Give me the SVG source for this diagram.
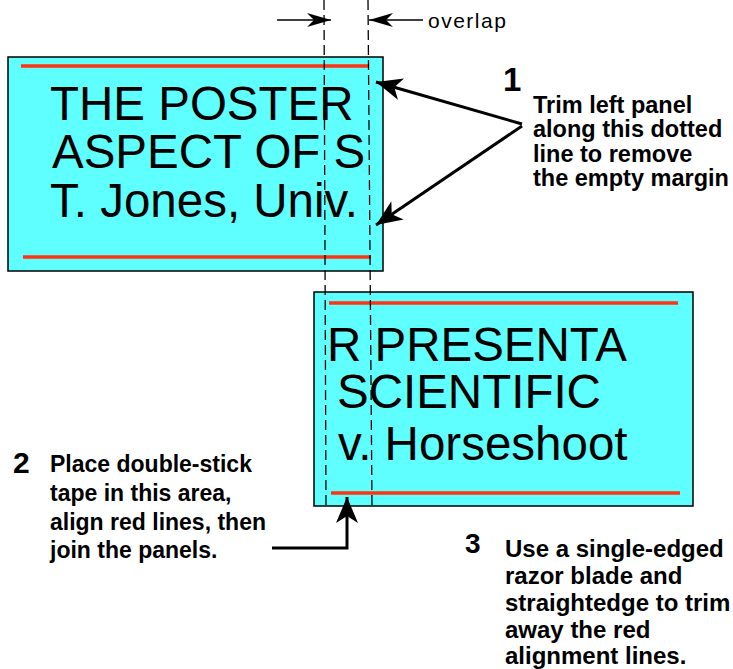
<svg xmlns="http://www.w3.org/2000/svg" width="733" height="669" viewBox="0 0 733 669">
  <style>
    .panel { fill: #5FFFFF; stroke: #000; stroke-width: 1.5; }
    .redline { stroke: #FF3311; stroke-width: 3.5; }
    .ptext { font-family: "Liberation Sans", Arial, sans-serif; font-size: 47.5px; fill: #000; }
    .cut { stroke: #000; stroke-width: 1.3; stroke-dasharray: 10 5; fill: none; }
    .step { font-family: "Liberation Sans", Arial, sans-serif; font-weight: bold; fill: #000; }
    .num { font-family: "Liberation Sans", Arial, sans-serif; font-weight: bold; fill: #000; }
    .thick { stroke: #000; stroke-width: 3; fill: none; }
    .thin { stroke: #000; stroke-width: 1.6; fill: none; }
  </style>
  <defs>
    <marker id="bigHead" markerUnits="userSpaceOnUse" markerWidth="30" markerHeight="26" viewBox="-28 -13 30 26" refX="0" refY="0" orient="auto">
      <path d="M0,0 L-26,-11 L-19,0 L-26,11 Z" fill="#000"/>
    </marker>
    <marker id="smallHead" markerUnits="userSpaceOnUse" markerWidth="28" markerHeight="18" viewBox="-26 -9 28 18" refX="0" refY="0" orient="auto">
      <path d="M0,0 L-24,-7 L-17,0 L-24,7 Z" fill="#000"/>
    </marker>
  </defs>

  <rect width="733" height="669" fill="#fff"/>

  <!-- left poster panel -->
  <g id="panel-left">
    <rect class="panel" x="8" y="57" width="375" height="214"/>
    <line class="redline" x1="21" y1="66" x2="369" y2="66"/>
    <line class="redline" x1="23" y1="257" x2="371" y2="257"/>
    <text class="ptext" x="50" y="120">THE POSTER</text>
    <text class="ptext" x="52" y="168">ASPECT OF S</text>
    <text class="ptext" x="50" y="217">T. Jones, Univ.</text>
  </g>

  <!-- right poster panel -->
  <g id="panel-right">
    <rect class="panel" x="314" y="292" width="379" height="214"/>
    <line class="redline" x1="329" y1="303" x2="678" y2="303"/>
    <line class="redline" x1="331" y1="493" x2="680" y2="493"/>
    <text class="ptext" x="327" y="361">R PRESENTA</text>
    <text class="ptext" x="337" y="408">SCIENTIFIC</text>
    <text class="ptext" x="338" y="460">v. Horseshoot</text>
  </g>

  <!-- trim / overlap guide lines -->
  <g id="cut-lines">
    <line class="cut" x1="324" y1="0" x2="326" y2="507"/>
    <line class="cut" x1="368" y1="0" x2="372" y2="507"/>
  </g>

  <!-- overlap label -->
  <g id="overlap-label">
    <text x="428" y="28" font-family="Liberation Sans, Arial, sans-serif" font-size="21" letter-spacing="1.5" fill="#000">overlap</text>
  </g>

  <!-- step 1 -->
  <g id="step-1">
    <text class="num" x="503" y="91" font-size="33">1</text>
    <text class="step" font-size="23.5">
      <tspan x="533" y="113">Trim left panel</tspan>
      <tspan x="533" y="137">along this dotted</tspan>
      <tspan x="533" y="162">line to remove</tspan>
      <tspan x="533" y="186">the empty margin</tspan>
    </text>
  </g>

  <!-- step 2 -->
  <g id="step-2">
    <text class="num" x="13" y="473" font-size="30">2</text>
    <text class="step" font-size="23">
      <tspan x="50" y="472">Place double-stick</tspan>
      <tspan x="50" y="501">tape in this area,</tspan>
      <tspan x="50" y="530">align red lines, then</tspan>
      <tspan x="50" y="558">join the panels.</tspan>
    </text>
  </g>

  <!-- step 3 -->
  <g id="step-3">
    <text class="num" x="465" y="553" font-size="28">3</text>
    <text class="step" font-size="24">
      <tspan x="505" y="557">Use a single-edged</tspan>
      <tspan x="505" y="584">razor blade and</tspan>
      <tspan x="505" y="611">straightedge to trim</tspan>
      <tspan x="505" y="638">away the red</tspan>
      <tspan x="505" y="664">alignment lines.</tspan>
    </text>
  </g>

  <!-- connectors -->
  <g id="connectors">
    <line class="thin" x1="277" y1="20" x2="331" y2="20" marker-end="url(#smallHead)"/>
    <line class="thin" x1="423" y1="20" x2="369" y2="20" marker-end="url(#smallHead)"/>
    <line class="thick" x1="522" y1="124" x2="376" y2="82" marker-end="url(#bigHead)"/>
    <line class="thick" x1="522" y1="126" x2="376" y2="225" marker-end="url(#bigHead)"/>
    <path class="thick" d="M272,548 H347 V497" marker-end="url(#bigHead)"/>
  </g>
</svg>
